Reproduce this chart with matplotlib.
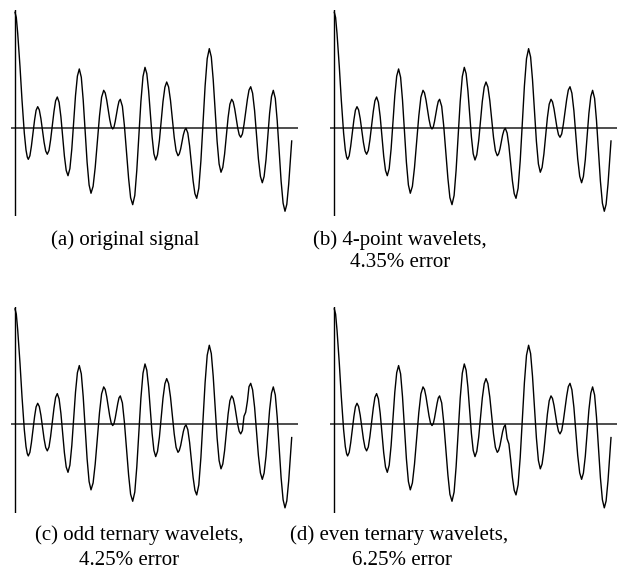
import matplotlib
matplotlib.use("Agg")
import matplotlib.pyplot as plt
import numpy as np

# sample positions along the signal and the original signal values
pos = [0.0, 1.3, 2.7, 5.0, 7.0, 9.3, 11.0, 12.3, 13.3,
       14.9, 16.4, 18.0, 19.6, 21.1, 22.7,
       24.3, 25.9, 27.5, 29.1, 30.7, 32.3,
       34.0, 35.6, 37.3, 39.0, 40.6, 42.3,
       44.1, 45.9, 47.7, 49.4, 51.2, 53.0,
       54.9, 56.8, 58.7, 60.5, 62.4, 64.3,
       66.3, 68.2, 70.2, 72.1, 74.1, 76.0,
       78.1, 80.2, 82.4, 84.5, 86.6, 88.7,
       90.2, 91.7, 93.2, 94.7, 96.2, 97.7,
       99.0, 100.2, 101.5, 102.8, 104.0, 105.3,
       107.4, 109.4, 111.5, 113.6, 115.6, 117.7,
       119.8, 121.8, 123.9, 125.9, 128.0, 130.0,
       131.8, 133.6, 135.4, 137.1, 138.9, 140.7,
       142.5, 144.4, 146.2, 148.0, 149.9, 151.7,
       153.6, 155.5, 157.4, 159.2, 161.1, 163.0,
       164.3, 165.7, 167.0, 168.3, 169.7, 171.0,
       172.8, 174.6, 176.4, 178.1, 179.9, 181.7,
       183.8, 185.9, 188.0, 190.1, 192.2, 194.3,
       196.3, 198.2, 200.2, 202.1, 204.1, 206.0,
       207.8, 209.6, 211.4, 213.1, 214.9, 216.7,
       218.2, 219.7, 221.2, 222.7, 224.2, 225.7,
       227.4, 229.0, 230.7, 232.4, 234.0, 235.7,
       237.6, 239.6, 241.5, 243.4, 245.4, 247.3,
       249.1, 251.0, 252.8, 254.6, 256.5, 258.3,
       260.3, 262.2, 264.2, 266.1, 268.1, 270.0,
       271.8, 273.7, 275.3, 276.7]

original = [1.000, 0.955, 0.818, 0.529, 0.240, -0.046, -0.193, -0.255, -0.274,
            -0.243, -0.160, -0.046, 0.068, 0.151, 0.182,
            0.154, 0.079, -0.024, -0.127, -0.202, -0.230,
            -0.197, -0.106, 0.018, 0.142, 0.233, 0.266,
            0.220, 0.095, -0.075, -0.246, -0.370, -0.416,
            -0.354, -0.185, 0.047, 0.278, 0.447, 0.509,
            0.437, 0.240, -0.030, -0.299, -0.496, -0.568,
            -0.508, -0.345, -0.122, 0.101, 0.264, 0.324,
            0.302, 0.240, 0.156, 0.073, 0.011, -0.011,
            0.006, 0.053, 0.118, 0.182, 0.229, 0.246,
            0.185, 0.018, -0.211, -0.439, -0.606, -0.667,
            -0.587, -0.369, -0.072, 0.226, 0.443, 0.523,
            0.469, 0.322, 0.121, -0.079, -0.226, -0.280,
            -0.235, -0.111, 0.058, 0.227, 0.351, 0.396,
            0.353, 0.236, 0.076, -0.083, -0.200, -0.243,
            -0.227, -0.183, -0.124, -0.064, -0.021, -0.005,
            -0.046, -0.157, -0.309, -0.460, -0.571, -0.612,
            -0.525, -0.288, 0.037, 0.361, 0.598, 0.685,
            0.613, 0.417, 0.149, -0.118, -0.314, -0.386,
            -0.344, -0.228, -0.070, 0.088, 0.204, 0.246,
            0.224, 0.164, 0.081, -0.001, -0.061, -0.083,
            -0.054, 0.027, 0.136, 0.246, 0.326, 0.355,
            0.299, 0.147, -0.061, -0.269, -0.421, -0.477,
            -0.423, -0.277, -0.076, 0.124, 0.270, 0.324,
            0.254, 0.062, -0.200, -0.462, -0.654, -0.724,
            -0.664, -0.489, -0.288, -0.115]

# reconstructions: where they visibly differ from the original
diff_b = {}
diff_c = {229.0: 0.070, 230.7: 0.105, 232.4: 0.200}
diff_d = {172.8: -0.125, 174.6: -0.170}

captions = [["(a) original signal"],
            ["(b) 4-point wavelets,", "4.35% error"],
            ["(c) odd ternary wavelets,", "4.25% error"],
            ["(d) even ternary wavelets,", "6.25% error"]]


def apply_diff(values, diff):
    out = list(values)
    for p, v in diff.items():
        out[pos.index(p)] = v
    return out


series = [original,
          apply_diff(original, diff_b),
          apply_diff(original, diff_c),
          apply_diff(original, diff_d)]

W, H = 618, 583
fig = plt.figure(figsize=(W / 100, H / 100), dpi=100)
plt.rcParams['font.family'] = ['Liberation Serif', 'DejaVu Serif']

# panel layout in pixels: (axis x, zero-line y)
origins = [(15.0, 127.7), (334.3, 127.7), (15.0, 424.3), (334.3, 424.3)]
# caption centres and baselines in pixels
cap_pos = [[(125.5, 245)],
           [(400, 245), (400, 267)],
           [(139.5, 540), (129.5, 565)],
           [(399, 540), (402, 565)]]

yscale = 115.4  # pixels per signal unit
left_pad, right_ext = 4.0, 282.7
up, down = 117.7, 88.4

for (ox, oy), vals, caps, cps in zip(origins, series, captions, cap_pos):
    l = ox - left_pad
    b = oy + down
    ax = fig.add_axes([l / W, 1 - b / H, (left_pad + right_ext) / W, (up + down) / H])
    ax.set_xlim(-left_pad, right_ext)
    ax.set_ylim(-down / yscale, up / yscale)
    ax.axis('off')
    ax.axhline(0, color='0.3', lw=1.4, zorder=1)
    ax.axvline(0, color='black', lw=1.0, zorder=2)
    ax.plot(pos, vals, color='black', lw=1.0, zorder=3)
    for txt, (cx, cy) in zip(caps, cps):
        fig.text(cx / W, 1 - cy / H, txt, ha='center', va='baseline', fontsize=15)

fig.savefig('out.png', dpi=100)
